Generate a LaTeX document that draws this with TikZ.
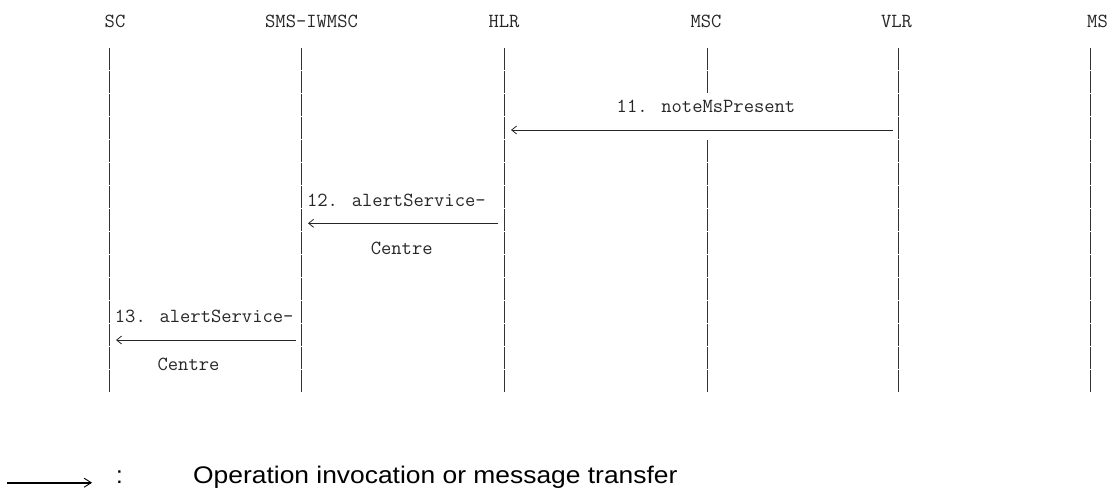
\documentclass[tikz,border=0pt]{standalone}
\usepackage{fontspec}
\setmainfont{Liberation Sans}
\usetikzlibrary{arrows.meta}
\begin{document}
\begin{tikzpicture}[x=1pt,y=-1pt,
  lbl/.style={font=\ttfamily\fontsize{20}{22}\selectfont, text=black!85, inner sep=0pt},
  life/.style={draw=black!80, line width=1pt, dash pattern=on 22pt off 1pt},
  msg/.style={draw=black!85, line width=0.8pt, -{Straight Barb[length=5pt,width=8pt,line width=0.8pt]}},
  legarrow/.style={draw=black, line width=1.8pt, -{Straight Barb[length=7pt,width=9pt,line width=0.9pt,sep=6pt]}},
  legtext/.style={font=\fontsize{24}{28}\selectfont, text=black, inner sep=0pt},
]
\useasboundingbox (0,0) rectangle (1108,490);
% lifeline heads
\node[lbl] (sc) at (115,21.5) {SC};
\node[lbl] (iw) at (311.5,21.5) {SMS-IWMSC};
\node[lbl] (hlr) at (504,21.5) {HLR};
\node[lbl] (msc) at (706,21.5) {MSC};
\node[lbl] (vlr) at (896.5,21.5) {VLR};
\node[lbl,anchor=west] (ms) at (1087,21.5) {MS};
% lifeline ends
\coordinate (sc-t) at (109,48.3);   \coordinate (sc-b) at (109,393.3);
\coordinate (iw-t) at (301,48.3);   \coordinate (iw-b) at (301,393.3);
\coordinate (hlr-t) at (504,48.3);  \coordinate (hlr-b) at (504,393.3);
\coordinate (msc-t) at (707,48.3);  \coordinate (msc-m1) at (707,94.3);
\coordinate (msc-m2) at (707,140.3); \coordinate (msc-b) at (707,393.3);
\coordinate (vlr-t) at (898,48.3);  \coordinate (vlr-b) at (898,393.3);
\coordinate (ms-t) at (1090,48.3);  \coordinate (ms-b) at (1090,393.3);
\draw[life] (sc-t) -- (sc-b);
\draw[life] (iw-t) -- (iw-b);
\draw[life] (hlr-t) -- (hlr-b);
\draw[life] (msc-t) -- (msc-m1);
\draw[life] (msc-m2) -- (msc-b);
\draw[life] (vlr-t) -- (vlr-b);
\draw[life] (ms-t) -- (ms-b);
% message 11
\coordinate (m11-s) at (893,130);
\coordinate (m11-e) at (511,130);
\draw[msg] (m11-s) -- (m11-e);
\node[lbl] (l11) at (706,106.7) {11. noteMsPresent};
% message 12
\coordinate (m12-s) at (498,223.3);
\coordinate (m12-e) at (308,223.3);
\draw[msg] (m12-s) -- (m12-e);
\node[lbl] (l12a) at (396.4,200) {12. alertService-};
\node[lbl] (l12b) at (401.7,248) {Centre};
% message 13
\coordinate (m13-s) at (296,340);
\coordinate (m13-e) at (116,340);
\draw[msg] (m13-s) -- (m13-e);
\node[lbl] (l13a) at (204.2,316.7) {13. alertService-};
\node[lbl] (l13b) at (188.5,364) {Centre};
% legend
\coordinate (lg-s) at (7,482.7);
\coordinate (lg-e) at (98,482.7);
\draw[legarrow] (lg-s) -- (lg-e);
\node[legtext,anchor=base] (colon) at (119.5,483) {:};
\node[legtext,anchor=base west] (legend) at (193,483) {\scalebox{1.1}[1]{Operation invocation or message transfer}};
\end{tikzpicture}
\end{document}
